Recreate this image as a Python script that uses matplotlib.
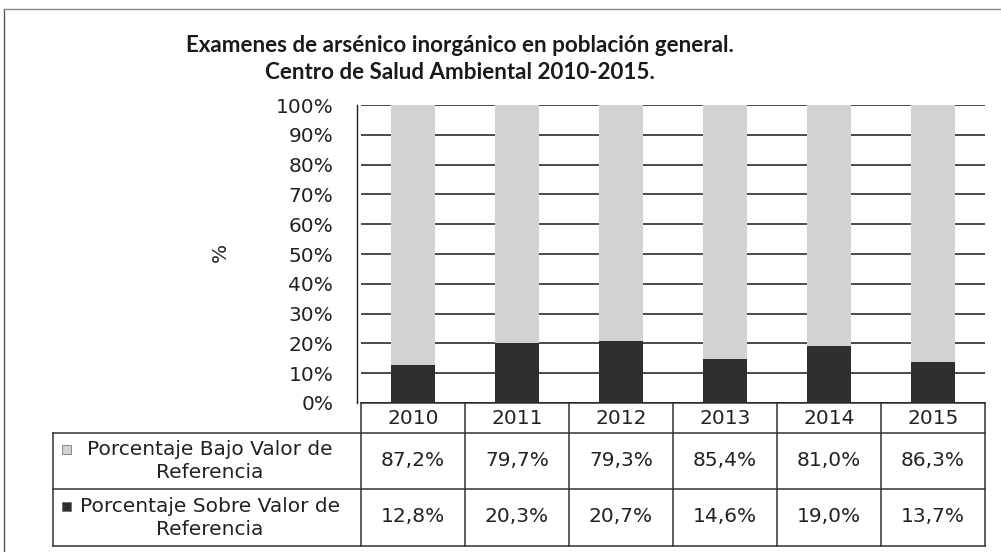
import matplotlib
matplotlib.use("Agg")
import matplotlib.pyplot as plt
import matplotlib.transforms as mtransforms
from matplotlib.patches import Rectangle

years = ["2010", "2011", "2012", "2013", "2014", "2015"]
bajo = [87.2, 79.7, 79.3, 85.4, 81.0, 86.3]
sobre = [12.8, 20.3, 20.7, 14.6, 19.0, 13.7]
bajo_labels = ["87,2%", "79,7%", "79,3%", "85,4%", "81,0%", "86,3%"]
sobre_labels = ["12,8%", "20,3%", "20,7%", "14,6%", "19,0%", "13,7%"]
yticks = [0, 10, 20, 30, 40, 50, 60, 70, 80, 90, 100]
title = "Examenes de arsénico inorgánico en población general.\nCentro de Salud Ambiental 2010-2015."
series_names = ["Porcentaje Bajo Valor de\nReferencia", "Porcentaje Sobre Valor de\nReferencia"]

W, H = 1001, 552
FS = 14.5
fig = plt.figure(figsize=(W / 100, H / 100), dpi=100)
fig.patch.set_facecolor("white")

# overlay axes in pixel coords
ov = fig.add_axes([0, 0, 1, 1], zorder=0)
ov.set_xlim(0, W)
ov.set_ylim(H, 0)
ov.axis("off")

x0, x1 = 361, 985
y_top, y_bot = 105, 403
ax = fig.add_axes([x0 / W, 1 - y_bot / H, (x1 - x0) / W, (y_bot - y_top) / H], zorder=1)
ax.patch.set_alpha(0)

light = "#d2d2d2"
dark = "#2e2e2e"
xs = list(range(len(years)))
bw = 0.42
ax.bar(xs, sobre, width=bw, color=dark, zorder=3)
ax.bar(xs, bajo, width=bw, bottom=sobre, color=light, zorder=3)
ax.set_xlim(-0.5, len(years) - 0.5)
ax.set_ylim(0, 100)
ax.set_yticks(yticks)
ax.set_yticklabels([f"{v}%" for v in yticks])
ax.tick_params(axis="y", length=0, pad=17, labelsize=FS, labelcolor="#222222")
for lab in ax.get_yticklabels():
    lab.set_family("DejaVu Sans")
ax.set_xticks([])
for v in yticks:
    ax.axhline(v, color="#1a1a1a", lw=1.1, zorder=1)
for s in ["top", "right", "bottom"]:
    ax.spines[s].set_visible(False)
ax.spines["left"].set_color("#1a1a1a")
ax.spines["left"].set_linewidth(1.0)
ax.spines["left"].set_position(("outward", 3))

fig.text(220 / W, 1 - 252 / H, "%", rotation=90, ha="center", va="center",
         fontsize=FS, family="DejaVu Sans", color="#222222")

fig.text(460 / W, 1 - 59 / H, title, ha="center", va="center", fontsize=16.1,
         family="Lato", fontweight="bold", color="#1a1a1a", linespacing=1.4)

# table
tr = mtransforms.blended_transform_factory(ax.transData, ov.transData)
lc = "#333333"
lw = 1.1
ov.plot([4, 4], [9, H], color="#555555", lw=1.0)
ov.plot([4, W], [9, 9], color="#888888", lw=1.0)

ov.plot([53, x1], [433, 433], color=lc, lw=lw)
ov.plot([53, x1], [489, 489], color=lc, lw=lw)
ov.plot([53, x1], [546, 546], color=lc, lw=lw)
ov.plot([53, 53], [433, 546], color=lc, lw=lw)
ov.plot([x0, x1], [403, 403], color=lc, lw=lw)
for i in range(len(years) + 1):
    ax_x = i - 0.5
    ov.plot([ax_x, ax_x], [403, 546], color=lc, lw=lw, transform=tr)

for i, yv in enumerate(years):
    ov.text(i, 418, yv, transform=tr, ha="center", va="center", fontsize=FS,
            family="DejaVu Sans", color="#222222")
    ov.text(i, 461, bajo_labels[i], transform=tr, ha="center", va="center", fontsize=FS,
            family="DejaVu Sans", color="#222222")
    ov.text(i, 517, sobre_labels[i], transform=tr, ha="center", va="center", fontsize=FS,
            family="DejaVu Sans", color="#222222")

for (name, yc, col) in [(series_names[0], 461, light), (series_names[1], 518, dark)]:
    ov.text(210, yc, name, ha="center", va="center", fontsize=FS, family="DejaVu Sans",
            color="#222222", linespacing=1.25, multialignment="center")
    ov.add_patch(Rectangle((62, yc - 16), 9, 9, facecolor=col, edgecolor="#666666", lw=0.5))

fig.savefig("out.png", dpi=100, facecolor="white")
